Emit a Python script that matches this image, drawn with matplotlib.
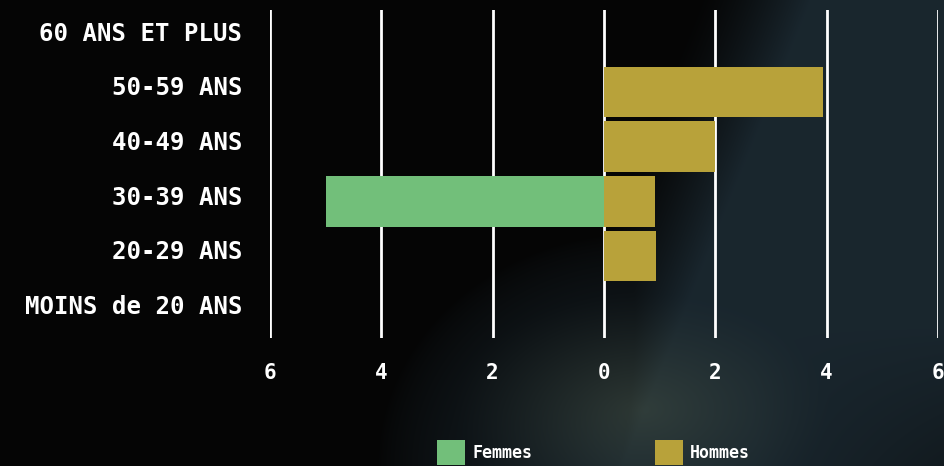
import numpy as np
import matplotlib.pyplot as plt
from matplotlib.ticker import FuncFormatter
from matplotlib.transforms import ScaledTranslation

# ---------- données ----------
categories = ["MOINS de 20 ANS", "20-29 ANS", "30-39 ANS", "40-49 ANS", "50-59 ANS", "60 ANS ET PLUS"]
femmes = [0, 0, 5.0, 0, 0, 0]
hommes = [0, 0.94, 0.92, 2.0, 3.94, 0]
ticks = [-6, -4, -2, 0, 2, 4, 6]

c_femmes = "#72bf7a"
c_hommes = "#b8a23a"

fig = plt.figure(figsize=(9.44, 4.66), dpi=100)
fig.patch.set_facecolor("#050505")

# ---------- fond (photo sombre approximée) ----------
bg = fig.add_axes([0, 0, 1, 1], zorder=-10)
h, w = 233, 472
yy, xx = np.mgrid[0:1:h * 1j, 0:1:w * 1j]  # yy = 0 en haut
base = np.array([0.02, 0.02, 0.02])
slate = np.array([0.10, 0.15, 0.18])
glow = np.array([0.19, 0.24, 0.23])
m = np.clip((xx - 0.74 + 0.20 * yy) / 0.12, 0, 1) ** 1.3
m = np.maximum(m, np.clip(1 - np.hypot((xx - 0.68) / 0.28, (yy - 1.0) / 0.50), 0, 1) ** 0.7)
m = m * (1 - 0.35 * np.clip((xx - 0.8) / 0.2, 0, 1) * np.clip((yy - 0.7) / 0.3, 0, 1))
g = np.clip(1 - np.hypot((xx - 0.68) / 0.20, (yy - 0.88) / 0.25), 0, 1)
img = base + (slate - base) * m[..., None] + (glow - slate) * (g ** 1.2)[..., None]
bg.imshow(np.clip(img, 0, 1), aspect="auto", extent=[0, 1, 0, 1], interpolation="bilinear")
bg.axis("off")

# ---------- graphique ----------
ax = fig.add_axes([270 / 944, 128 / 466, 668 / 944, 328 / 466])
ax.set_facecolor("none")
y = np.arange(len(categories))
ax.barh(y, [-v for v in femmes], height=0.93, color=c_femmes, label="Femmes", zorder=3)
ax.barh(y, hommes, height=0.93, color=c_hommes, label="Hommes", zorder=3)

ax.set_xlim(-6, 6)
ax.set_ylim(-0.5, len(categories) - 0.5)
ax.set_xticks(ticks)
ax.xaxis.set_major_formatter(FuncFormatter(lambda v, p: f"{abs(int(v))}"))
ax.set_yticks(y)
ax.set_yticklabels(categories)
ax.grid(axis="x", color="white", linewidth=2, zorder=1)
ax.set_axisbelow(True)
for s in ax.spines.values():
    s.set_visible(False)
ax.tick_params(axis="y", length=0, pad=20, labelcolor="white", labelsize=17.3)
ax.tick_params(axis="x", length=0, pad=18, labelcolor="white", labelsize=15)
up = ScaledTranslation(0, 4.5 / 72, fig.dpi_scale_trans)
for lab in ax.get_yticklabels():
    lab.set_fontfamily("DejaVu Sans Mono")
    lab.set_fontweight("bold")
    lab.set_transform(lab.get_transform() + up)
for lab in ax.get_xticklabels():
    lab.set_fontfamily("DejaVu Sans Mono")
    lab.set_fontweight("bold")

leg = ax.legend(loc="upper left", bbox_to_anchor=(437 / 944, 26 / 466), bbox_transform=fig.transFigure,
                ncol=2, frameon=False, borderpad=0, borderaxespad=0,
                handlelength=1.7, handleheight=1.9, handletextpad=0.4, columnspacing=7.35,
                prop={"family": "DejaVu Sans Mono", "weight": "bold", "size": 12})
for t in leg.get_texts():
    t.set_color("white")

fig.savefig("out.png", dpi=100, facecolor=fig.get_facecolor())
